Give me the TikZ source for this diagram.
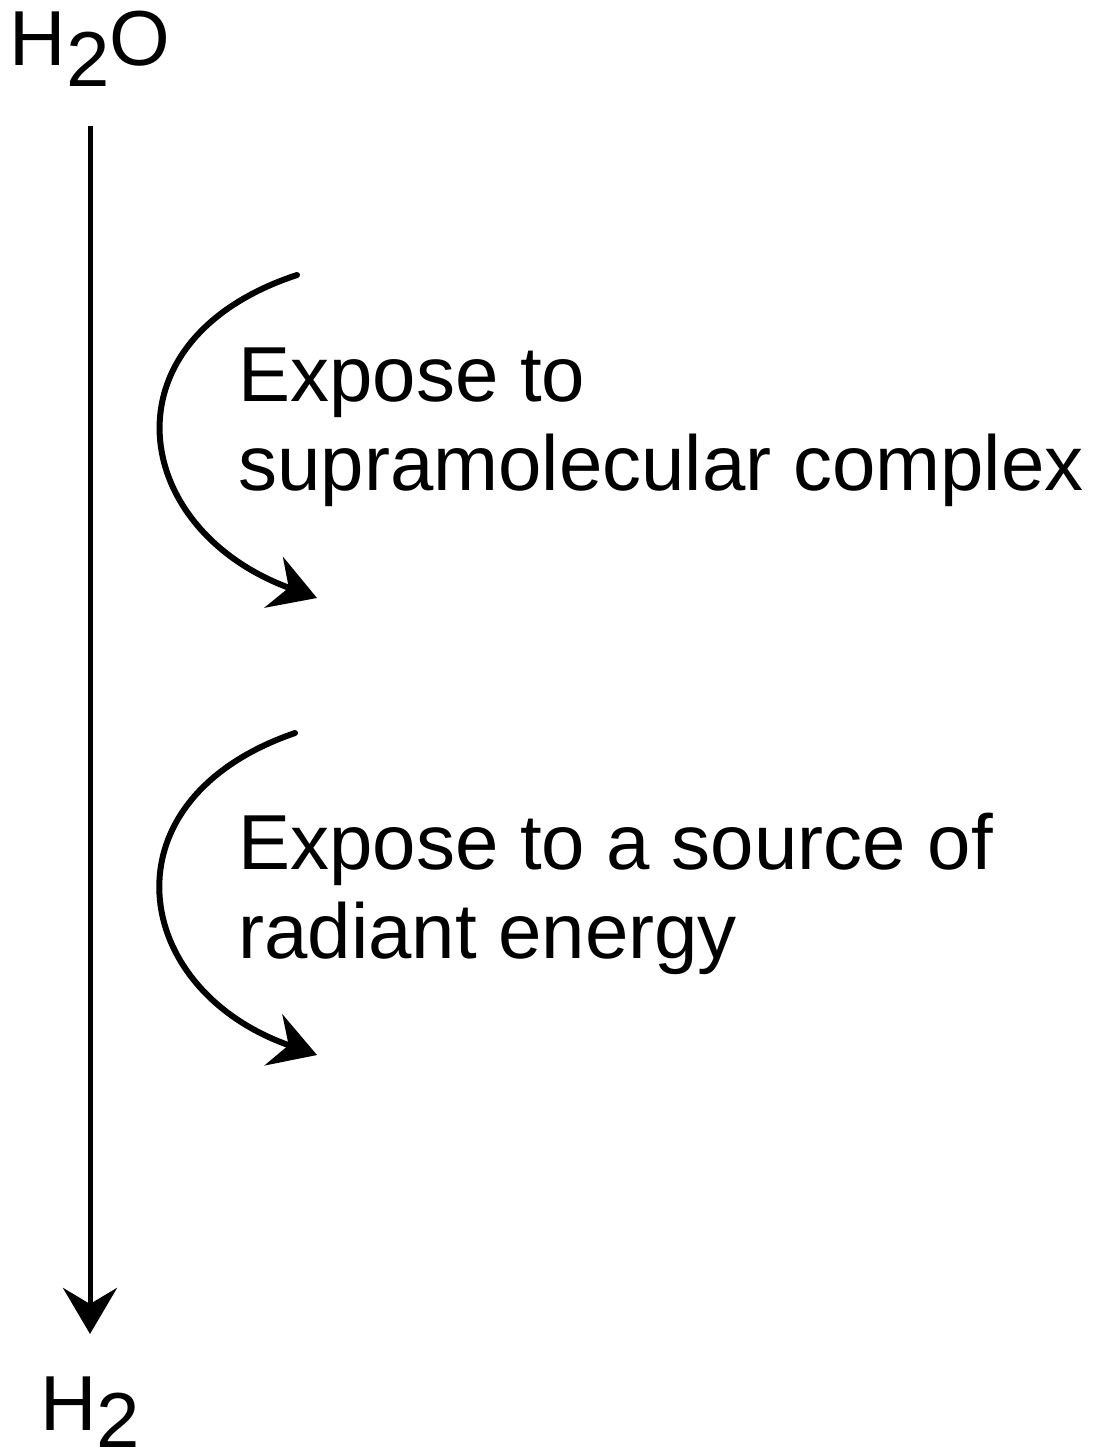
\documentclass[tikz,border=0pt]{standalone}
\usepackage{fontspec}
\setmainfont{Liberation Sans}
\usetikzlibrary{arrows.meta}
\usetikzlibrary{calc}

\begin{document}
\begin{tikzpicture}[x=0.5pt,y=-0.5pt,>={Stealth[length=23pt,width=27pt,inset=8pt]},
		font=\fontsize{39}{44.5}\selectfont]
		\useasboundingbox (0,0) rectangle (1094,1456);

		% Water at the top, hydrogen at the bottom
		\node [anchor=base,inner sep=0pt] at (90,65) (h2o) {H\raisebox{-0.27em}{2}O};
		\node [anchor=base,inner sep=0pt] at (90,1430) (h2) {H\raisebox{-0.22em}{2}};
		\draw [->,line width=2.5pt,shorten <=20pt,shorten >=21pt] (h2o.south) -- (h2.north);

		% Step 1
		\node [anchor=base west,align=left,inner sep=0pt] at (238,490) (step1) {Expose to\\supramolecular complex};
		\coordinate (s1from) at (297,275);
		\coordinate (s1to) at (317,598);
		\draw [->,line width=3pt,line cap=round] (s1from) .. controls (100,340) and (130,530) .. (s1to);

		% Step 2
		\node [anchor=base west,align=left,inner sep=0pt] at (238,958) (step2) {Expose to a source of\\radiant energy};
		\coordinate (s2from) at (295,733);
		\coordinate (s2to) at (317,1055);
		\draw [->,line width=3pt,line cap=round] (s2from) .. controls (100,800) and (130,990) .. (s2to);
	\end{tikzpicture}
\end{document}
